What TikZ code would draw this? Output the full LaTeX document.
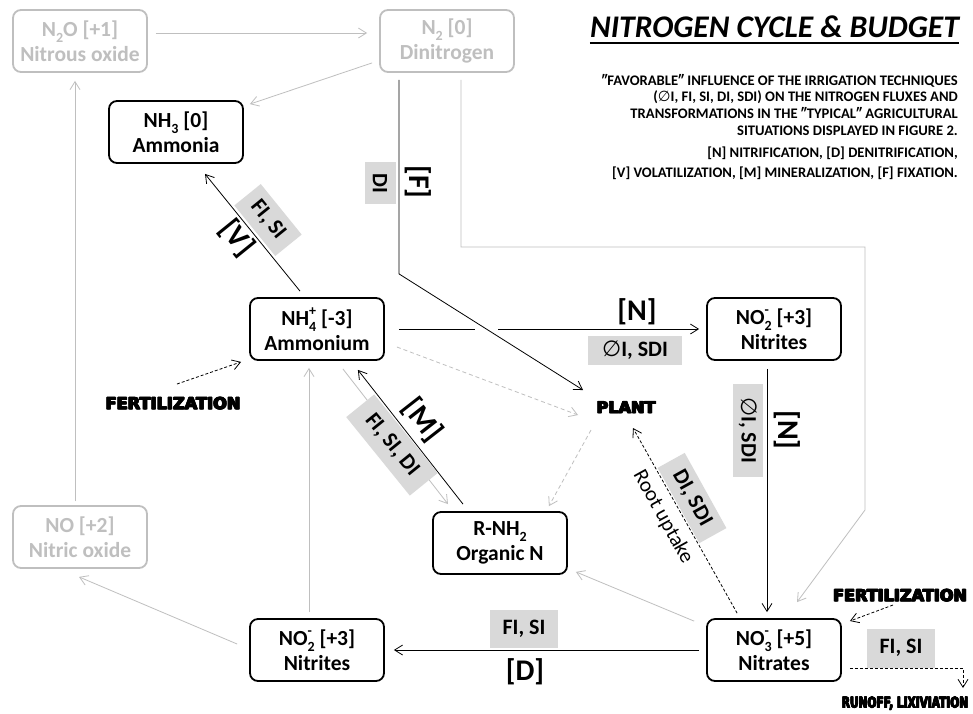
\documentclass[tikz,border=0pt]{standalone}
\usepackage{fontspec}
\setmainfont{Carlito}
\newfontfamily\heavyfont[FakeBold=2.5]{DejaVu Sans Bold}
\newfontfamily\symfont{DejaVu Sans}
\usetikzlibrary{arrows.meta}
\definecolor{lgray}{RGB}{191,191,191}
\definecolor{lblfill}{RGB}{217,217,217}
\newcommand{\lsub}[1]{\raisebox{-0.28em}{\fontsize{14}{14}\selectfont #1}}
\newcommand{\lsubsup}[2]{\rlap{\raisebox{0.45em}{\fontsize{14}{14}\selectfont #2}}\raisebox{-0.28em}{\fontsize{14}{14}\selectfont #1}}
\newcommand{\nullset}{{\symfont\mdseries ∅}}
\newcommand{\heavytext}[1]{\rlap{#1}\rlap{\kern0.5pt #1}\rlap{\raisebox{0.4pt}{\kern0.5pt #1}}\kern1pt #1}
\begin{document}
\begin{tikzpicture}[x=1pt,y=-1pt,
  box/.style={draw, rounded corners=8pt, line width=1.8pt, minimum width=134pt, minimum height=62pt, align=center, inner sep=0pt, font=\fontsize{21.5}{25}\selectfont\bfseries},
  gbox/.style={box, draw=lgray, text=lgray},
  lbl/.style={fill=lblfill, inner sep=0pt, font=\fontsize{22}{24}\selectfont\bfseries},
  big/.style={inner sep=0pt, font=\fontsize{30}{30}\selectfont\bfseries},
  heavy/.style={inner sep=0pt, font=\heavyfont\fontsize{15}{15}\selectfont},
  arr/.style={-{Straight Barb[length=8pt,width=10pt]}, line width=0.8pt},
  garr/.style={arr, draw=lgray},
  darr/.style={arr, dash pattern=on 3pt off 2pt},
  gdarr/.style={garr, dash pattern=on 4pt off 3pt}]
\useasboundingbox (0,0) rectangle (973,713);
\fill[white] (0,0) rectangle (973,713);

% species boxes
\node[gbox] (n2o) at (80,41) {N\lsub{2}O [+1]\\Nitrous oxide};
\node[gbox] (n2) at (447,41) {N\lsub{2} [0]\\Dinitrogen};
\node[box] (nh3) at (176,132) {NH\lsub{3} [0]\\Ammonia};
\node[box] (nh4) at (317,329) {NH\lsubsup{4}{+} [-3]\\Ammonium};
\node[box] (no2t) at (774,329) {NO\lsubsup{2}{-} [+3]\\Nitrites};
\node[box] (rnh2) at (500,543) {R-NH\lsub{2}\\Organic N};
\node[gbox] (no) at (80,537) {NO [+2]\\Nitric oxide};
\node[box] (no2b) at (317,650) {NO\lsubsup{2}{-} [+3]\\Nitrites};
\node[box] (no3) at (774,650) {NO\lsubsup{3}{-} [+5]\\Nitrates};

% heavy labels
\node[heavy] (plant) at (626,407) {\resizebox{60pt}{12pt}{\heavytext{PLANT}}};
\node[heavy] (fertL) at (173,403) {\resizebox{136pt}{12.5pt}{\heavytext{FERTILIZATION}}};
\node[heavy] (fertR) at (900,595) {\resizebox{135pt}{12.5pt}{\heavytext{FERTILIZATION}}};
\node[heavy] (runoff) at (905,703) {\resizebox{127pt}{11.5pt}{\heavytext{RUNOFF, LIXIVIATION}}};

% title and notes
\node[anchor=south east, inner sep=0pt, font=\fontsize{31.5}{31}\selectfont\bfseries\itshape] (title) at (959,38) {NITROGEN CYCLE \& BUDGET};
\draw[line width=2pt] ([yshift=-5pt]title.south west) -- ([yshift=-5pt]title.south east);
\node[anchor=north east, align=right, inner sep=0pt, font=\fontsize{14.6}{16.7}\selectfont\bfseries] (note1) at (958,74) {″FAVORABLE″ INFLUENCE OF THE IRRIGATION TECHNIQUES\\(\nullset I, FI, SI, DI, SDI) ON THE NITROGEN FLUXES AND\\TRANSFORMATIONS IN THE ″TYPICAL″ AGRICULTURAL\\SITUATIONS DISPLAYED IN FIGURE 2.};
\node[anchor=north east, align=right, inner sep=0pt, font=\fontsize{14.6}{20}\selectfont\bfseries] (note2) at (958,147) {[N] NITRIFICATION, [D] DENITRIFICATION,\\{[V]} VOLATILIZATION, [M] MINERALIZATION, [F] FIXATION.};

% gray connectors
\draw[garr] ([xshift=8pt,yshift=8pt]n2o.east) -- ([xshift=-12pt,yshift=8pt]n2.west);
\draw[garr] ([xshift=-7pt,yshift=10pt]n2.south west) -- ([xshift=6pt,yshift=-4pt]nh3.north east);
\draw[garr] ([xshift=-5pt,yshift=4pt]no.north) -- ([xshift=-5pt,yshift=-8pt]n2o.south);
\draw[garr] ([xshift=-12pt,yshift=6pt]no2b.west) -- ([xshift=-1pt,yshift=-8pt]no.south);
\draw[garr] ([xshift=-8pt,yshift=6pt]no2b.north) -- ([xshift=-8pt,yshift=-7pt]nh4.south);
\draw[garr] ([xshift=-12pt,yshift=-3pt]no3.north west) -- ([xshift=8pt,yshift=3pt]rnh2.south east);
\draw[garr] ([xshift=-42pt,yshift=-8pt]nh4.south east) -- ([xshift=-52pt,yshift=7pt]rnh2.north);
\draw[garr] ([xshift=14pt,yshift=-7pt]n2.south) |- (865,247) -- (865,510) -- ([xshift=23pt,yshift=16pt]no3.north);
\draw[gdarr] ([xshift=12pt,yshift=-18pt]nh4.east) -- ([xshift=-48pt,yshift=-8pt]plant.center);
\draw[gdarr] ([xshift=-35pt,yshift=-23pt]plant.center) -- ([xshift=-19pt,yshift=5pt]rnh2.north east);

% black connectors
\draw[arr] ([xshift=-7pt]no3.west) -- ([xshift=9pt]no2b.east);
\draw[arr] ([xshift=-7pt,yshift=-8pt]no2t.south) -- ([xshift=-7pt,yshift=6pt]no3.north);
\draw[arr] ([xshift=14pt]nh4.east) -- ([xshift=-7pt]no2t.west);
\fill[white] (475,327) rectangle (498,331);
\draw[arr] ([xshift=-48pt,yshift=-7pt]n2.south) -- ++(0,194) -- ([xshift=-43pt,yshift=17pt]plant.center);
\draw[arr] ([xshift=-17pt,yshift=6pt]nh4.north) -- ([xshift=29pt,yshift=-10pt]nh3.south);
\draw[arr] ([xshift=-37pt,yshift=7pt]rnh2.north) -- ([xshift=-27pt,yshift=-9pt]nh4.south east);
\draw[darr] ([xshift=31pt,yshift=5pt]no3.north west) -- ([xshift=7pt,yshift=-21pt]plant.center);
\draw[darr] ([xshift=4pt,yshift=19pt]fertL.center) -- ([xshift=-8pt,yshift=-1pt]nh4.south west);
\draw[darr] ([xshift=-7pt,yshift=-10pt]fertR.center) -- ([xshift=8pt,yshift=29pt]no3.east);
\draw[darr] ([xshift=8pt,yshift=-18pt]no3.east) -| ([xshift=58pt,yshift=15pt]runoff.center);

% flux labels
\node[lbl, rotate=-51, minimum width=65pt, minimum height=34pt] (lv1) at (268,220) {FI, SI};
\node[big, rotate=-51] (lv2) at (237,238) {[V]};
\node[lbl, rotate=-90, minimum width=42pt, minimum height=31pt] (lf1) at (380,183) {DI};
\node[big, rotate=-90] (lf2) at (418,182) {[F]};
\node[big] (ln1) at (637,312) {[N]};
\node[lbl, minimum width=94pt, minimum height=29pt] (ln2) at (635,350) {\nullset I, SDI};
\node[lbl, rotate=-90, minimum width=93pt, minimum height=30pt] (ln3) at (748,430) {\nullset I, SDI};
\node[big, rotate=-90] (ln4) at (787,430) {[N]};
\node[big, rotate=-52] (lm1) at (422,420) {[M]};
\node[lbl, rotate=-51, minimum width=101pt, minimum height=36pt] (lm2) at (392,445) {FI, SI, DI};
\node[lbl, minimum width=68pt, minimum height=38pt] (ld1) at (524,629) {FI, SI};
\node[big] (ld2) at (525,672) {[D]};
\node[lbl, rotate=-61, minimum width=86pt, minimum height=31pt] (lr1) at (692,498) {DI, SDI};
\node[rotate=-61, inner sep=0pt, font=\fontsize{21}{22}\selectfont] (lr2) at (663,517) {Root uptake};
\node[lbl, minimum width=68pt, minimum height=39pt] (lx1) at (901,648) {FI, SI};
\end{tikzpicture}
\end{document}
